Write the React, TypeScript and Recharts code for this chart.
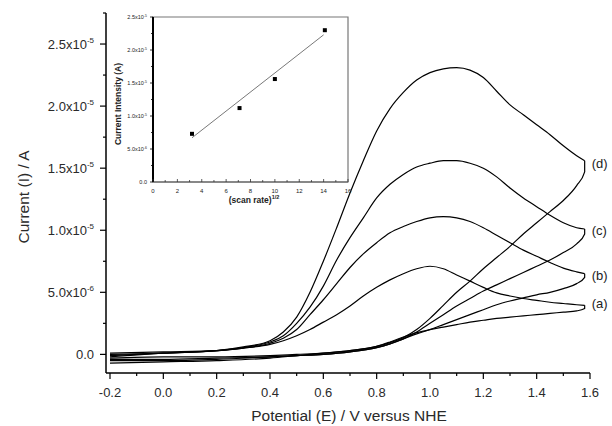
import React from "react";
import { LineChart, Line, XAxis, YAxis, ReferenceDot, ReferenceArea, Label } from "recharts";

// --- main CV plot: potentials (V vs NHE) ---
const forwardV = [-0.2, 0.0, 0.2, 0.3, 0.4, 0.45, 0.5, 0.55, 0.6, 0.65, 0.7, 0.75, 0.8, 0.85, 0.9, 0.95, 1.0, 1.05, 1.1, 1.15, 1.2, 1.25, 1.3, 1.35, 1.4, 1.45, 1.5, 1.55, 1.58];
const reverseV = [1.58, 1.55, 1.5, 1.45, 1.4, 1.35, 1.3, 1.25, 1.2, 1.15, 1.1, 1.05, 1.0, 0.95, 0.9, 0.85, 0.8, 0.7, 0.6, 0.5, 0.4, 0.2, 0.0, -0.2];

// currents, in units of 1e-6 A
const aFwd = [0.1, 0.2, 0.3, 0.5, 0.8, 1.1, 1.5, 2.0, 2.6, 3.2, 3.9, 4.7, 5.4, 6.0, 6.5, 6.9, 7.1, 6.9, 6.4, 5.9, 5.4, 4.95, 4.7, 4.5, 4.35, 4.2, 4.1, 4.0, 3.95];
const aRev = [3.7, 3.5, 3.4, 3.3, 3.2, 3.1, 3.0, 2.9, 2.75, 2.6, 2.4, 2.2, 2.0, 1.75, 1.4, 1.0, 0.65, 0.3, 0.1, 0.0, -0.1, -0.2, -0.2, -0.3];
const bFwd = [0.0, 0.1, 0.3, 0.5, 0.9, 1.3, 2.0, 3.2, 4.4, 5.7, 7.0, 8.1, 9.0, 9.8, 10.3, 10.7, 11.0, 11.1, 11.0, 10.7, 10.2, 9.6, 9.0, 8.4, 7.9, 7.4, 6.95, 6.65, 6.5];
const bRev = [6.2, 5.7, 5.3, 5.0, 4.8, 4.55, 4.3, 4.0, 3.6, 3.2, 2.8, 2.4, 2.0, 1.65, 1.25, 0.85, 0.55, 0.2, 0.0, -0.1, -0.2, -0.3, -0.4, -0.4];
const cFwd = [-0.1, 0.1, 0.3, 0.55, 1.0, 1.5, 2.5, 3.8, 5.5, 7.6, 9.4, 11.0, 12.6, 13.7, 14.5, 15.1, 15.4, 15.6, 15.6, 15.4, 15.0, 14.3, 13.4, 12.6, 11.9, 11.2, 10.6, 10.2, 10.1];
const cRev = [9.7, 8.9, 8.2, 7.6, 7.1, 6.6, 6.1, 5.6, 5.1, 4.5, 3.9, 3.2, 2.5, 1.8, 1.25, 0.85, 0.55, 0.2, 0.0, -0.1, -0.2, -0.4, -0.5, -0.5];
const dFwd = [-0.2, 0.1, 0.3, 0.6, 1.1, 1.8, 3.0, 5.0, 7.5, 10.2, 13.0, 15.6, 18.0, 19.8, 21.1, 22.1, 22.7, 23.0, 23.1, 22.9, 22.3, 21.2, 20.1, 19.3, 18.5, 17.7, 16.8, 16.0, 15.6];
const dRev = [14.7, 13.6, 12.4, 11.5, 10.6, 9.7, 8.7, 7.8, 6.9, 5.9, 5.0, 3.95, 2.9, 2.0, 1.35, 0.95, 0.65, 0.3, 0.1, -0.1, -0.3, -0.5, -0.6, -0.7];

const curveNames = ["(a)", "(b)", "(c)", "(d)"];
const labelY = [4.1, 6.4, 10.0, 15.4];

const xTicks = [-0.2, -0.1, 0, 0.1, 0.2, 0.3, 0.4, 0.5, 0.6, 0.7, 0.8, 0.9, 1.0, 1.1, 1.2, 1.3, 1.4, 1.5, 1.6];
const yTicks = [0, 2.5, 5, 7.5, 10, 12.5, 15, 17.5, 20, 22.5, 25, 27.5];
const yTickLabels: Record<number, [string, string]> = {
    0: ["0.0", ""],
    5: ["5.0x10", "-6"],
    10: ["1.0x10", "-5"],
    15: ["1.5x10", "-5"],
    20: ["2.0x10", "-5"],
    25: ["2.5x10", "-5"],
};

// --- inset: peak current vs sqrt(scan rate) ---
const scanRoot = [3.2, 7.1, 10.0, 14.1];
const peakCurrent = [7.3, 11.2, 15.6, 23.0];
const fitX = [3.2, 14.0];
const fitY = [6.7, 22.3];
const insetXTicks = [0, 1, 2, 3, 4, 5, 6, 7, 8, 9, 10, 11, 12, 13, 14, 15, 16];
const insetYTicks = [0, 2.5, 5, 7.5, 10, 12.5, 15, 17.5, 20, 22.5, 25];
const insetYLabels: Record<number, [string, string]> = {
    0: ["0.0", ""],
    5: ["5.0x10", "-6"],
    10: ["1.0x10", "-5"],
    15: ["1.5x10", "-5"],
    20: ["2.0x10", "-5"],
    25: ["2.5x10", "-5"],
};

const zip = (xs: number[], ys: number[]) => xs.map((x, i) => ({ x, y: ys[i] }));

const curves = [
    [aFwd, aRev],
    [bFwd, bRev],
    [cFwd, cRev],
    [dFwd, dRev],
].map(([f, r]) => {
    const fwd = zip(forwardV, f);
    const rev = [fwd[fwd.length - 1], ...zip(reverseV, r)];
    return { fwd, rev };
});

const PLOT_LEFT = 106;
const PLOT_BOTTOM = 373;
const IN_LEFT = 53;
const IN_BOTTOM = 182;

function XTick(props: any) {
    const { x, payload } = props;
    const v = payload.value;
    const major = Math.round(v * 10) % 2 === 0;
    return (
        <g>
            <line x1={x} x2={x} y1={PLOT_BOTTOM} y2={PLOT_BOTTOM + (major ? 6 : 3)} stroke="#000" strokeWidth={1.2} />
            {major && (
                <text x={x} y={397} textAnchor="middle" fontSize={13} fill="#2a2a2a">
                    {v.toFixed(1)}
                </text>
            )}
        </g>
    );
}

function YTick(props: any) {
    const { y, payload } = props;
    const v = payload.value;
    const lab = yTickLabels[v];
    return (
        <g>
            <line x1={PLOT_LEFT - (lab ? 6 : 3)} x2={PLOT_LEFT} y1={y} y2={y} stroke="#000" strokeWidth={1.2} />
            {lab && (
                <text x={94} y={y + 5} textAnchor="end" fontSize={13} fill="#2a2a2a">
                    <tspan>{lab[0]}</tspan>
                    {lab[1] && <tspan dy={-6} fontSize={8}>{lab[1]}</tspan>}
                </text>
            )}
        </g>
    );
}

function InsetXTick(props: any) {
    const { x, payload } = props;
    const v = payload.value;
    const major = v % 2 === 0;
    return (
        <g>
            <line x1={x} x2={x} y1={IN_BOTTOM} y2={IN_BOTTOM - (major ? 3 : 2)} stroke="#333" strokeWidth={0.8} />
            {major && (
                <text x={x} y={193} textAnchor="middle" fontSize={6} fill="#222">
                    {v}
                </text>
            )}
        </g>
    );
}

function InsetYTick(props: any) {
    const { y, payload } = props;
    const lab = insetYLabels[payload.value];
    return (
        <g>
            <line x1={IN_LEFT - (lab ? 3 : 2)} x2={IN_LEFT} y1={y} y2={y} stroke="#000" strokeWidth={0.8} />
            {lab && (
                <text x={47} y={y + 2} textAnchor="end" fontSize={5.5} fill="#222">
                    <tspan>{lab[0]}</tspan>
                    {lab[1] && <tspan dy={-2.5} fontSize={3.5}>{lab[1]}</tspan>}
                </text>
            )}
        </g>
    );
}

const Square = (p: any) => (
    <rect key={`sq-${p.index}`} x={p.cx - 2} y={p.cy - 2} width={4} height={4} fill="#000" />
);

export default function App() {
    return (
        <div
            style={{
                position: "absolute",
                left: 0,
                top: 0,
                width: 612,
                height: 426,
                background: "#fff",
                fontFamily: '"Liberation Sans", Arial, sans-serif',
            }}
        >
            <LineChart width={612} height={426} margin={{ top: 13, right: 22, bottom: 0, left: 0 }}>
                <XAxis
                    type="number"
                    dataKey="x"
                    domain={[-0.215, 1.6]}
                    ticks={xTicks}
                    interval={0}
                    allowDataOverflow
                    height={53}
                    tickLine={false}
                    tick={XTick}
                    axisLine={{ stroke: "#000", strokeWidth: 1.5 }}
                >
                    <Label
                        content={() => (
                            <text x={349} y={421} textAnchor="middle" fontSize={15.5} fill="#2a2a2a">
                                Potential (E) / V versus NHE
                            </text>
                        )}
                    />
                </XAxis>
                <YAxis
                    type="number"
                    dataKey="y"
                    domain={[-1.5, 27.5]}
                    ticks={yTicks}
                    interval={0}
                    allowDataOverflow
                    width={106}
                    tickLine={false}
                    tick={YTick}
                    axisLine={{ stroke: "#000", strokeWidth: 1.5 }}
                >
                    <Label
                        content={() => (
                            <text
                                x={29}
                                y={197}
                                transform="rotate(-90 29 197)"
                                textAnchor="middle"
                                fontSize={15.5}
                                fill="#2a2a2a"
                            >
                                Current (I) / A
                            </text>
                        )}
                    />
                </YAxis>
                {curves.map((c, i) => (
                    <Line
                        key={`f${i}`}
                        data={c.fwd}
                        dataKey="y"
                        type="monotone"
                        stroke="#000"
                        strokeWidth={1.2}
                        dot={false}
                        isAnimationActive={false}
                    />
                ))}
                {curves.map((c, i) => (
                    <Line
                        key={`r${i}`}
                        data={c.rev}
                        dataKey="y"
                        type="monotone"
                        stroke="#000"
                        strokeWidth={1.2}
                        dot={false}
                        isAnimationActive={false}
                    />
                ))}
                {curveNames.map((name, i) => (
                    <ReferenceDot
                        key={name}
                        x={1.58}
                        y={labelY[i]}
                        r={0}
                        ifOverflow="visible"
                        label={{ value: name, position: "right", offset: 7, fontSize: 13, fill: "#222" }}
                    />
                ))}
            </LineChart>

            <div style={{ position: "absolute", left: 100, top: 0 }}>
                <LineChart width={262} height={210} margin={{ top: 17, right: 14, bottom: 0, left: 0 }}>
                    <ReferenceArea
                        x1={0}
                        x2={16}
                        y1={0}
                        y2={25}
                        fillOpacity={0}
                        stroke="#777"
                        strokeWidth={1.2}
                        ifOverflow="visible"
                    />
                    <XAxis
                        type="number"
                        dataKey="x"
                        domain={[0, 16]}
                        ticks={insetXTicks}
                        interval={0}
                        height={28}
                        tickLine={false}
                        tick={InsetXTick}
                        axisLine={{ stroke: "#777", strokeWidth: 1.5 }}
                    >
                        <Label
                            content={() => (
                                <text x={154} y={203} textAnchor="middle" fontSize={8.5} fontWeight="bold" fill="#222">
                                    <tspan>(scan rate)</tspan>
                                    <tspan dy={-4} fontSize={5.5}>1/2</tspan>
                                </text>
                            )}
                        />
                    </XAxis>
                    <YAxis
                        type="number"
                        dataKey="y"
                        domain={[0, 25]}
                        ticks={insetYTicks}
                        interval={0}
                        width={53}
                        tickLine={false}
                        tick={InsetYTick}
                        axisLine={{ stroke: "#000", strokeWidth: 2 }}
                    >
                        <Label
                            content={() => (
                                <text
                                    x={21}
                                    y={104}
                                    transform="rotate(-90 21 104)"
                                    textAnchor="middle"
                                    fontSize={8.5}
                                    fontWeight="bold"
                                    fill="#222"
                                >
                                    Current Intensity (A)
                                </text>
                            )}
                        />
                    </YAxis>
                    <Line
                        data={zip(fitX, fitY)}
                        dataKey="y"
                        type="linear"
                        stroke="#555"
                        strokeWidth={0.8}
                        dot={false}
                        isAnimationActive={false}
                    />
                    <Line
                        data={zip(scanRoot, peakCurrent)}
                        dataKey="y"
                        stroke="none"
                        dot={Square}
                        isAnimationActive={false}
                    />
                </LineChart>
            </div>
        </div>
    );
}
